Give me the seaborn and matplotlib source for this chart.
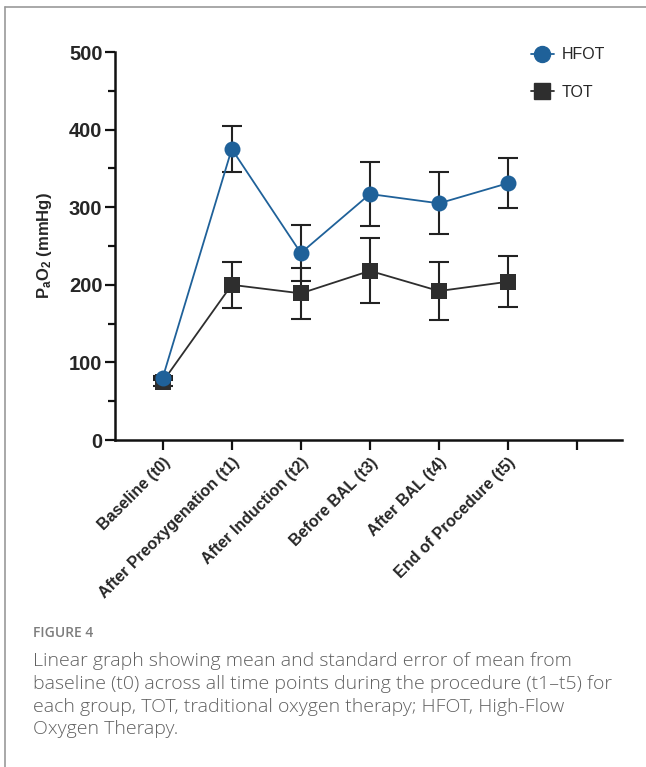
import numpy as np
import pandas as pd
import matplotlib
matplotlib.use("Agg")
import matplotlib.pyplot as plt
from matplotlib.lines import Line2D
from matplotlib.ticker import MultipleLocator
import seaborn as sns

# ---- data ----
timepoints = ["Baseline (t0)", "After Preoxygenation (t1)", "After Induction (t2)",
              "Before BAL (t3)", "After BAL (t4)", "End of Procedure (t5)"]
hfot_mean = [80, 375, 241, 317, 305, 331]
hfot_sem = [3, 30, 36, 41, 40, 32]
tot_mean = [75, 200, 189, 218, 192, 204]
tot_sem = [5, 30, 33, 42, 37, 33]
groups = ["HFOT", "TOT"]
colors = {"HFOT": "#1f6199", "TOT": "#2e2e2e"}

sns.set_style("ticks")
plt.rcParams["font.family"] = ["Liberation Sans", "DejaVu Sans"]
plt.rcParams["mathtext.fontset"] = "custom"
plt.rcParams["mathtext.bf"] = "Liberation Sans:bold"
plt.rcParams["mathtext.rm"] = "Liberation Sans"
plt.rcParams["mathtext.it"] = "Liberation Sans:italic"

pos = list(range(len(timepoints)))
df = pd.DataFrame({
    "pos": pos * 2,
    "value": hfot_mean + tot_mean,
    "sem": hfot_sem + tot_sem,
    "group": ["HFOT"] * len(pos) + ["TOT"] * len(pos),
})

fig = plt.figure(figsize=(6.46, 7.67), dpi=100)
ax = fig.add_axes([0.178, 0.4263, 0.785, 0.5059])

# error bars (behind markers)
for g in groups:
    sub = df[df.group == g]
    ax.errorbar(sub["pos"], sub["value"], yerr=sub["sem"], fmt="none",
                ecolor="#222222", elinewidth=1.5, capsize=7, capthick=1.5, zorder=2)

n_before = len(ax.lines)
sns.lineplot(data=df, x="pos", y="value", hue="group", style="group",
             markers={"HFOT": "o", "TOT": "s"}, dashes=False,
             palette=colors, markersize=11.5, linewidth=1.3,
             markeredgewidth=0, ax=ax, legend=False)
for ln in ax.lines[n_before:]:
    if ln.get_marker() == "o":
        ln.set_zorder(4)
    else:
        ln.set_zorder(3)

ax.set_xlim(-0.69, 6.65)
ax.set_ylim(0, 500)
ax.set_xticks(list(range(len(timepoints) + 1)))
ax.set_xticklabels(timepoints + [""], rotation=45, ha="right", rotation_mode="anchor",
                   fontsize=11.5, fontweight="bold")
ax.yaxis.set_major_locator(MultipleLocator(100))
ax.yaxis.set_minor_locator(MultipleLocator(50))
for lbl in ax.get_yticklabels():
    lbl.set_fontsize(14.5)
    lbl.set_fontweight("bold")
ax.tick_params(axis="both", which="major", length=7, width=1.6, color="#111111")
ax.tick_params(axis="y", which="minor", length=5, width=1.6, color="#111111")
ax.tick_params(axis="x", pad=4)
ax.tick_params(axis="y", pad=2)
for s in ["left", "bottom"]:
    ax.spines[s].set_linewidth(1.8)
    ax.spines[s].set_color("#111111")
sns.despine(ax=ax)
ax.set_xlabel("")
ax.set_ylabel(r"$\mathbf{P_aO_2}$ (mmHg)", fontsize=12, fontweight="bold", labelpad=11)

# legend
handles = [
    Line2D([], [], color=colors["HFOT"], marker="o", markersize=11.5, linewidth=1.3),
    Line2D([], [], color=colors["TOT"], marker="s", markersize=11.5, linewidth=1.3),
]
fig.legend(handles, groups, loc="upper left", bbox_to_anchor=(0.80, 0.957),
           frameon=False, fontsize=11.5, handlelength=1.4, handletextpad=0.5,
           labelspacing=1.4)

# frame around the figure (top and left)
fig.add_artist(Line2D([0.008, 0.008], [0, 0.991], color="#9a9a9a", linewidth=1.2,
                      transform=fig.transFigure))
fig.add_artist(Line2D([0.008, 1.0], [0.991, 0.991], color="#9a9a9a", linewidth=1.2,
                      transform=fig.transFigure))

# caption
fig.text(33 / 646, 1 - 633 / 767, "FIGURE 4", fontsize=10, color="#7d7d7d",
         fontweight="semibold", family=["Open Sans", "DejaVu Sans"], va="center")
caption = ["Linear graph showing mean and standard error of mean from",
           "baseline (t0) across all time points during the procedure (t1\u2013t5) for",
           "each group, TOT, traditional oxygen therapy; HFOT, High-Flow",
           "Oxygen Therapy."]
for i, line in enumerate(caption):
    fig.text(33 / 646, 1 - (661 + 22.8 * i) / 767, line, fontsize=14, color="#606060",
             fontweight="light", family=["Open Sans", "DejaVu Sans"], va="center")

fig.savefig("out.png", dpi=100)
